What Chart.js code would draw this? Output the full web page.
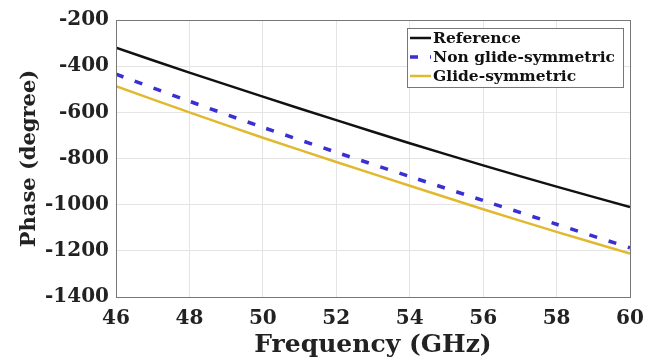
<!DOCTYPE html>
<html>
<head>
<meta charset="utf-8">
<script src="https://cdn.jsdelivr.net/npm/chart.js@4/dist/chart.umd.min.js"></script>
<style>
  html, body { margin: 0; padding: 0; background: #fff; }
  #wrap { width: 660px; height: 360px; }
</style>
</head>
<body>
<div id="wrap"><canvas id="phaseChart" width="660" height="360"></canvas></div>
<script>
const frequencies = [46, 48, 50, 52, 54, 56, 58, 60];
const referencePhase = [-320, -428, -532, -634, -734, -830, -922, -1010];
const nonGlidePhase = [-435, -552, -665, -773, -878, -982, -1085, -1187];
const glidePhase = [-487, -600, -710, -815, -918, -1020, -1118, -1212];
const seriesLabels = ['Reference', 'Non glide-symmetric', 'Glide-symmetric'];

const serif = 'DejaVu Serif';

function toPoints(values) {
    return frequencies.map((f, i) => ({ x: f, y: values[i] }));
}

// frame round the plot area, like a MATLAB axes box
const boxPlugin = {
    id: 'box',
    afterDraw(chart) {
        const { ctx, chartArea: a } = chart;
        ctx.save();
        ctx.strokeStyle = '#777';
        ctx.lineWidth = 1;
        ctx.strokeRect(a.left + 0.5, a.top + 0.5, a.right - a.left, a.bottom - a.top);
        ctx.restore();
    }
};

// legend box drawn inside the upper right corner
const innerLegend = {
    id: 'innerLegend',
    afterDraw(chart) {
        const { ctx } = chart;
        const x0 = 407, y0 = 28, w = 216, rowH = 19;
        const h = rowH * chart.data.datasets.length + 2;
        ctx.save();
        ctx.fillStyle = '#fff';
        ctx.fillRect(x0, y0, w, h);
        ctx.strokeStyle = '#777';
        ctx.lineWidth = 1;
        ctx.strokeRect(x0 + 0.5, y0 + 0.5, w, h);
        ctx.font = 'bold 15.5px "' + serif + '"';
        ctx.textBaseline = 'middle';
        chart.data.datasets.forEach((ds, i) => {
            const cy = y0 + 10 + i * rowH;
            ctx.beginPath();
            ctx.strokeStyle = ds.borderColor;
            ctx.lineWidth = ds.borderWidth;
            ctx.setLineDash(ds.borderDash || []);
            ctx.moveTo(x0 + 3, cy);
            ctx.lineTo(x0 + 24, cy);
            ctx.stroke();
            ctx.setLineDash([]);
            ctx.fillStyle = '#111';
            ctx.fillText(ds.label, x0 + 26, cy + 1);
        });
        ctx.restore();
    }
};

new Chart(document.getElementById('phaseChart'), {
    type: 'line',
    data: {
        datasets: [
            {
                label: seriesLabels[0],
                data: toPoints(referencePhase),
                borderColor: '#111111',
                borderWidth: 2.5,
                pointRadius: 0,
                tension: 0.2
            },
            {
                label: seriesLabels[1],
                data: toPoints(nonGlidePhase),
                borderColor: '#3a2fd0',
                borderWidth: 3.5,
                borderDash: [8, 12],
                pointRadius: 0,
                tension: 0.2
            },
            {
                label: seriesLabels[2],
                data: toPoints(glidePhase),
                borderColor: '#e2b92e',
                borderWidth: 2.5,
                pointRadius: 0,
                tension: 0.2
            }
        ]
    },
    options: {
        responsive: false,
        animation: false,
        layout: { padding: { left: 17, right: 30, top: 20, bottom: 0 } },
        plugins: {
            legend: { display: false },
            tooltip: { enabled: false }
        },
        scales: {
            x: {
                type: 'linear',
                min: 46,
                max: 60,
                ticks: {
                    stepSize: 2,
                    color: '#222',
                    padding: 10,
                    font: { family: serif, size: 20, weight: 'bold' },
                    callback: (v) => String(v)
                },
                grid: { color: '#e4e4e4', drawTicks: false },
                border: { display: false },
                title: {
                    display: true,
                    text: 'Frequency (GHz)',
                    color: '#222',
                    padding: { top: 0, bottom: 0 },
                    font: { family: serif, size: 25, weight: 'bold' }
                },
                afterFit(scale) { scale.height = 63; }
            },
            y: {
                min: -1400,
                max: -200,
                ticks: {
                    stepSize: 200,
                    color: '#222',
                    padding: 7,
                    font: { family: serif, size: 20, weight: 'bold' },
                    callback: (v) => String(v)
                },
                grid: { color: '#e4e4e4', drawTicks: false },
                border: { display: false },
                title: {
                    display: true,
                    text: 'Phase (degree)',
                    color: '#222',
                    padding: { top: 0, bottom: 0 },
                    font: { family: serif, size: 21, weight: 'bold' }
                },
                afterFit(scale) { scale.width = 99; }
            }
        }
    },
    plugins: [boxPlugin, innerLegend]
});
</script>
</body>
</html>
